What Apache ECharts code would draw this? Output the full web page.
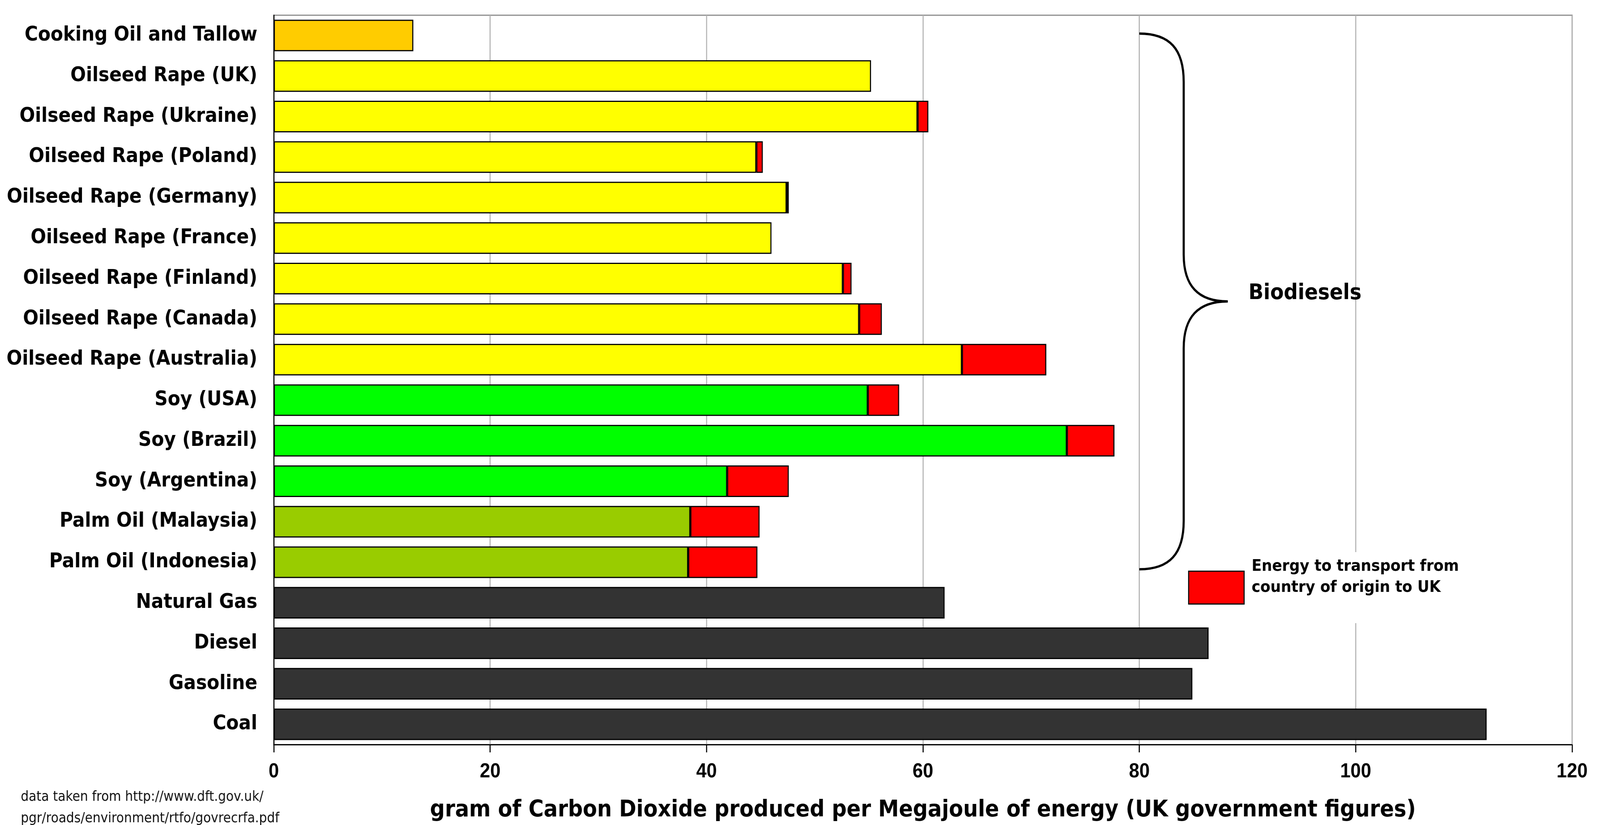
<!DOCTYPE html>
<html>
<head>
<meta charset="utf-8">
<script src="https://cdn.jsdelivr.net/npm/echarts@6/dist/echarts.min.js"></script>
<style>
html,body{margin:0;padding:0;background:#fff;overflow:hidden;}
#chart{width:4471px;height:2113px;transform-origin:0 0;}
</style>
</head>
<body>
<div id="chart"></div>
<script>
// ---- data ----
var categories = [
  'Cooking Oil and Tallow',
  'Oilseed Rape (UK)',
  'Oilseed Rape (Ukraine)',
  'Oilseed Rape (Poland)',
  'Oilseed Rape (Germany)',
  'Oilseed Rape (France)',
  'Oilseed Rape (Finland)',
  'Oilseed Rape (Canada)',
  'Oilseed Rape (Australia)',
  'Soy (USA)',
  'Soy (Brazil)',
  'Soy (Argentina)',
  'Palm Oil (Malaysia)',
  'Palm Oil (Indonesia)',
  'Natural Gas',
  'Diesel',
  'Gasoline',
  'Coal'
];
var groups = ['waste','rape','rape','rape','rape','rape','rape','rape','rape',
              'soy','soy','soy','palm','palm','fossil','fossil','fossil','fossil'];
var baseValues = [12.9, 55.2, 59.5, 44.6, 47.4, 46.0, 52.6, 54.1, 63.6,
                  54.9, 73.3, 41.9, 38.5, 38.3, 62.0, 86.4, 84.9, 112.1];
var transportValues = [null, null, 1.0, 0.6, 0.2, null, 0.8, 2.1, 7.8,
                       2.9, 4.4, 5.7, 6.4, 6.4, null, null, null, null];
var xTicks = { min: 0, max: 120, interval: 20 };
var transportName = 'Energy to transport from\ncountry of origin to UK';
var axisTitle = 'gram of Carbon Dioxide produced per Megajoule of energy (UK government figures)';
var sourceText = 'data taken from http://www.dft.gov.uk/\npgr/roads/environment/rtfo/govrecrfa.pdf';
var braceLabel = 'Biodiesels';
var braceFirst = 'Cooking Oil and Tallow';
var braceLast = 'Palm Oil (Indonesia)';
var braceAt = 80;

// ---- styles ----
var groupColors = { waste: '#FFCC00', rape: '#FFFF00', soy: '#00FF00', palm: '#99CC00', fossil: '#333333' };

// fit the 4471-wide design into the actual viewport width
var DESIGN_W = 4471;
var el = document.getElementById('chart');
var sx = Math.min(1, window.innerWidth / DESIGN_W);
el.style.transform = 'scaleX(' + sx + ')';

var chart = echarts.init(el, null, { renderer: 'canvas', devicePixelRatio: 1 });

var option = {
  animation: false,
  backgroundColor: '#ffffff',
  title: {
    text: sourceText,
    left: 58, top: 2014,
    padding: 0,
    textStyle: { fontFamily: 'DejaVu Sans', fontWeight: 'normal', fontSize: 35, lineHeight: 55, color: '#111' }
  },
  legend: {
    data: [transportName],
    selectedMode: false,
    orient: 'vertical',
    left: 3310, top: 1414,
    padding: [10, 12, 10, 10],
    backgroundColor: '#ffffff',
    itemWidth: 155, itemHeight: 84,
    icon: 'rect',
    itemStyle: { color: '#FF0000', borderColor: '#000', borderWidth: 3 },
    formatter: function (name) { return name + '\n'; },
    textStyle: { fontFamily: 'DejaVu Sans', fontWeight: 'bold', fontSize: 41, lineHeight: 54, color: '#000', padding: [0, 0, 0, 16] }
  },
  grid: {
    left: 765, right: 78, top: 39, bottom: 206,
    show: true, borderColor: '#8c8c8c', borderWidth: 3, backgroundColor: '#ffffff'
  },
  xAxis: {
    type: 'value',
    min: xTicks.min, max: xTicks.max, interval: xTicks.interval,
    axisLine: { show: true, lineStyle: { color: '#000', width: 3 } },
    axisTick: { show: true, length: 20, lineStyle: { color: '#000', width: 3 } },
    axisLabel: { margin: 44, fontFamily: 'Liberation Sans', fontWeight: 'bold', fontSize: 52, color: '#000' },
    splitLine: { show: true, lineStyle: { color: '#b4b4b4', width: 3 } },
    name: axisTitle,
    nameLocation: 'middle',
    nameGap: 140,
    nameTextStyle: { fontFamily: 'DejaVu Sans', fontWeight: 'bold', fontSize: 58, color: '#000' }
  },
  yAxis: {
    type: 'category',
    inverse: true,
    data: categories,
    axisLine: { show: true, lineStyle: { color: '#000', width: 3 } },
    axisTick: { show: false },
    axisLabel: { margin: 46, fontFamily: 'DejaVu Sans', fontWeight: 'bold', fontSize: 51, color: '#000' },
    splitLine: { show: false }
  },
  series: [
    {
      name: 'Production',
      type: 'bar',
      stack: 'total',
      barCategoryGap: '22%',
      itemStyle: { borderColor: '#000', borderWidth: 3 },
      data: baseValues.map(function (v, i) {
        return { value: v, itemStyle: { color: groupColors[groups[i]] } };
      })
    },
    {
      name: transportName,
      type: 'bar',
      stack: 'total',
      barCategoryGap: '22%',
      itemStyle: { color: '#FF0000', borderColor: '#000', borderWidth: 3 },
      data: transportValues.map(function (v) { return v == null ? '-' : v; })
    }
  ]
};
chart.setOption(option);

// ---- brace annotation, anchored to the axes ----
var pTop = chart.convertToPixel({ gridIndex: 0 }, [braceAt, braceFirst]);
var pBot = chart.convertToPixel({ gridIndex: 0 }, [braceAt, braceLast]);
var X0 = pTop[0];
var yT = pTop[1] - 5;
var yB = pBot[1] + 18;
var yM = (yT + yB) / 2;
var Xv = X0 + 124, Xp = X0 + 247;
var st = { stroke: '#000', lineWidth: 6, fill: null };
chart.setOption({
  graphic: [
    { type: 'bezierCurve', z: 50, shape: { x1: X0, y1: yT, cpx1: X0 + 85, cpy1: yT, cpx2: Xv, cpy2: yT + 40, x2: Xv, y2: yT + 124 }, style: st },
    { type: 'line', z: 50, shape: { x1: Xv, y1: yT + 124, x2: Xv, y2: yM - 120 }, style: st },
    { type: 'bezierCurve', z: 50, shape: { x1: Xv, y1: yM - 120, cpx1: Xv, cpy1: yM - 40, cpx2: Xv + 40, cpy2: yM, x2: Xp, y2: yM }, style: st },
    { type: 'bezierCurve', z: 50, shape: { x1: Xp, y1: yM, cpx1: Xv + 40, cpy1: yM, cpx2: Xv, cpy2: yM + 40, x2: Xv, y2: yM + 120 }, style: st },
    { type: 'line', z: 50, shape: { x1: Xv, y1: yM + 120, x2: Xv, y2: yB - 124 }, style: st },
    { type: 'bezierCurve', z: 50, shape: { x1: Xv, y1: yB - 124, cpx1: Xv, cpy1: yB - 40, cpx2: X0 + 85, cpy2: yB, x2: X0, y2: yB }, style: st },
    { type: 'text', z: 50, x: Xp + 58, y: yM - 20,
      style: { text: braceLabel, fontFamily: 'DejaVu Sans', fontWeight: 'bold', fontSize: 55, fill: '#000', textVerticalAlign: 'middle', textAlign: 'left' } }
  ]
});
</script>
</body>
</html>
